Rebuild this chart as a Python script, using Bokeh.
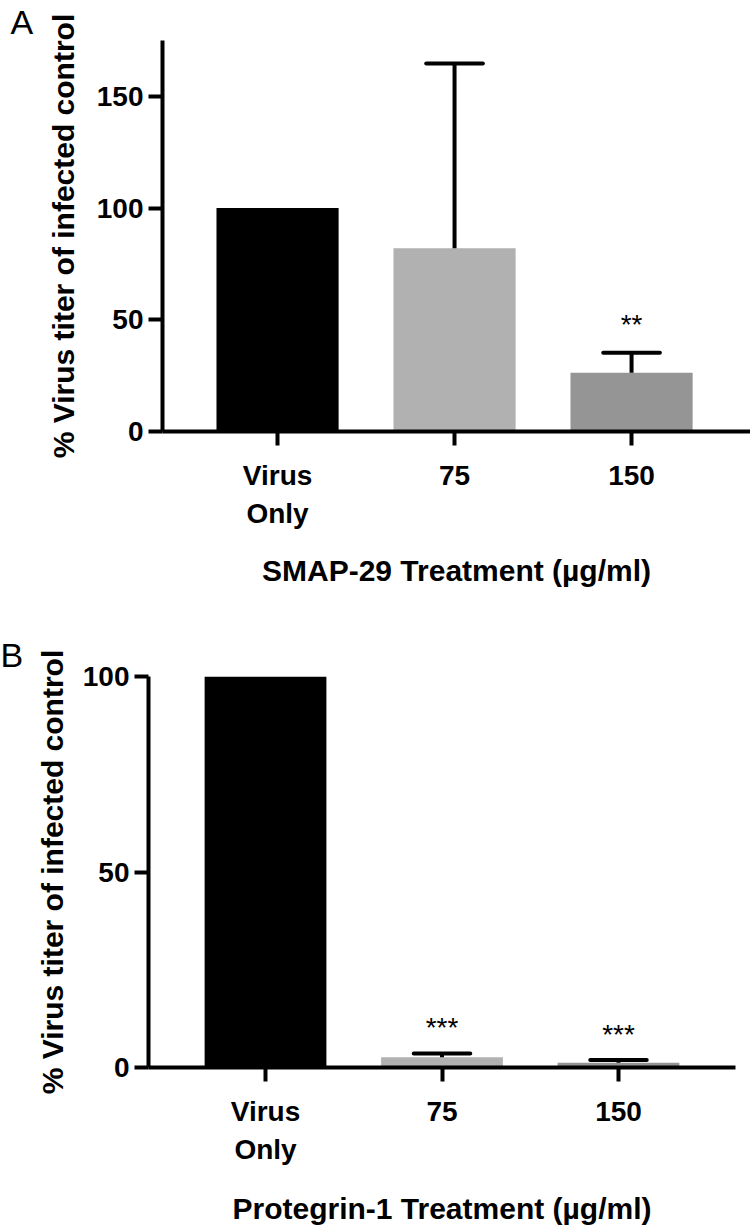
from bokeh.plotting import figure
from bokeh.layouts import column, row
from bokeh.models import ColumnDataSource, FixedTicker, Range1d
from bokeh.embed import file_html
from bokeh.resources import INLINE
from bokeh.core.properties import value

# ---------------- data ----------------
categories = ["Virus\nOnly", "75", "150"]
smap_mean = [100.0, 82.0, 26.3]
smap_sem = [0.0, 82.7, 9.0]
smap_sig = ["", "", "**"]
pg1_mean = [100.0, 2.6, 1.2]
pg1_sem = [0.0, 1.0, 0.7]
pg1_sig = ["", "***", "***"]
bar_colors = ["#000000", "#b1b1b1", "#959595"]
smap_yticks = [0, 50, 100, 150]
pg1_yticks = [0, 50, 100]
smap_xlabel = "SMAP-29 Treatment (µg/ml)"
pg1_xlabel = "Protegrin-1 Treatment (µg/ml)"
ylabel = "% Virus titer of infected control"

FONT = "Liberation Sans"


def panel(mean, sem, sig, yticks, ymax, xlabel, letter, height, borders,
          xrange, letter_offset, letter_standoff, sig_offset, ylab_standoff,
          xlab_standoff):
    xs = list(range(1, len(categories) + 1))
    bl, br, bt, bb = borders
    p = figure(width=750, height=height,
               x_range=Range1d(*xrange), y_range=Range1d(0, ymax),
               output_backend="svg", toolbar_location=None,
               min_border_left=bl, min_border_right=br,
               min_border_top=bt, min_border_bottom=bb)
    p.outline_line_color = None
    p.xgrid.grid_line_color = None
    p.ygrid.grid_line_color = None
    p.background_fill_color = "white"
    p.border_fill_color = "white"

    # panel letter as the figure title
    p.title.text = letter
    p.title.align = "left"
    p.title.offset = letter_offset
    p.title.standoff = letter_standoff
    p.title.text_font = FONT
    p.title.text_font_style = "normal"
    p.title.text_font_size = "34px"
    p.title.text_color = "black"

    src = ColumnDataSource(dict(x=xs, top=mean, color=bar_colors))
    p.vbar(x="x", top="top", width=0.69, bottom=0, fill_color="color",
           line_color=None, source=src)

    ex, elo, ehi, sx, sy, st = [], [], [], [], [], []
    for x, m, s, g in zip(xs, mean, sem, sig):
        if s > 0:
            ex.append(x)
            elo.append(m)
            ehi.append(m + s)
        if g:
            sx.append(x)
            sy.append(m + s)
            st.append(g)
    esrc = ColumnDataSource(dict(x=ex, lo=elo, hi=ehi,
                                 xl=[x - 0.16 for x in ex],
                                 xr=[x + 0.16 for x in ex]))
    p.segment(x0="x", y0="lo", x1="x", y1="hi", line_color="black",
              line_width=4, line_cap="butt", source=esrc)
    p.segment(x0="xl", y0="hi", x1="xr", y1="hi", line_color="black",
              line_width=4, line_cap="round", source=esrc)

    ssrc = ColumnDataSource(dict(x=sx, y=sy, t=st))
    p.text(x="x", y="y", text="t", source=ssrc, text_align="center",
           text_baseline="alphabetic", y_offset=sig_offset,
           text_font=value(FONT), text_font_size="28px", text_color="black")

    # axes
    for ax in (p.xaxis[0], p.yaxis[0]):
        ax.axis_line_width = 4
        ax.axis_line_color = "black"
        ax.major_tick_line_width = 4
        ax.major_tick_line_color = "black"
        ax.major_tick_out = 14
        ax.major_tick_in = 0
        ax.minor_tick_line_color = None
        ax.major_label_text_font = FONT
        ax.major_label_text_font_style = "bold"
        ax.major_label_text_font_size = "28px"
        ax.major_label_text_color = "black"
        ax.axis_label_text_font = FONT
        ax.axis_label_text_font_style = "bold"
        ax.axis_label_text_color = "black"

    p.xaxis.ticker = FixedTicker(ticks=xs)
    p.xaxis.major_label_overrides = {x: c for x, c in zip(xs, categories)}
    p.xaxis.major_label_standoff = 14
    p.xaxis.major_label_text_line_height = 1.25
    p.xaxis.axis_label = xlabel
    p.xaxis.axis_label_text_font_size = "30px"
    p.xaxis.axis_label_standoff = xlab_standoff

    p.yaxis.ticker = FixedTicker(ticks=yticks)
    p.yaxis.major_label_standoff = 5
    p.yaxis.axis_label = ylabel
    p.yaxis.axis_label_text_font_size = "30px"
    p.yaxis.axis_label_standoff = ylab_standoff
    return p


pA = panel(smap_mean, smap_sem, smap_sig, smap_yticks, 175, smap_xlabel, "A",
           height=595, borders=(162, 0, 38, 164), xrange=(0.350, 3.672),
           letter_offset=-152, letter_standoff=0, sig_offset=-28,
           ylab_standoff=14, xlab_standoff=22)
pB = panel(pg1_mean, pg1_sem, pg1_sig, pg1_yticks, 100, pg1_xlabel, "B",
           height=633, borders=(148, 15, 81, 161), xrange=(0.337, 3.663),
           letter_offset=-148, letter_standoff=6, sig_offset=-26,
           ylab_standoff=11, xlab_standoff=24)

layout = column(row(pA), row(pB), spacing=0)
open("out.html", "w").write(file_html(layout, INLINE))
